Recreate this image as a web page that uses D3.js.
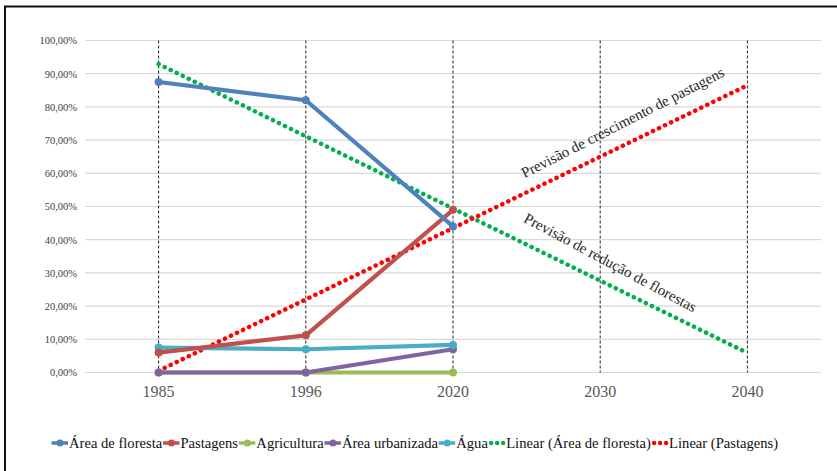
<!DOCTYPE html>
<html>
<head>
<meta charset="utf-8">
<script src="https://cdn.jsdelivr.net/npm/d3@7/dist/d3.min.js"></script>
<style>
  html, body { margin: 0; padding: 0; background: #fff; }
  svg { display: block; }
</style>
</head>
<body>
<svg id="chart" width="837" height="471"></svg>
<script>
// Land-use shares (%) per year, with linear projections to 2040
const years = ["1985", "1996", "2020", "2030", "2040"];
const observedYears = ["1985", "1996", "2020"];
const yTicks = [0, 10, 20, 30, 40, 50, 60, 70, 80, 90, 100];

const floresta = [87.5, 82, 44];
const pastagens = [6, 11.2, 49];
const agricultura = [0, 0, 0];
const urbanizada = [0, 0, 7];
const agua = [7.5, 7, 8.3];

// Trend line end values at 1985 and 2040
const trendYears = ["1985", "2040"];
const trendFloresta = [92.9, 5.9];
const trendPastagens = [0.5, 86.5];

const series = [
  { name: "Área de floresta", color: "#4F81BD", values: floresta },
  { name: "Pastagens", color: "#C0504D", values: pastagens },
  { name: "Agricultura", color: "#9BBB59", values: agricultura },
  { name: "Área urbanizada", color: "#8064A2", values: urbanizada },
  { name: "Água", color: "#4BACC6", values: agua }
];
const trends = [
  { name: "Linear (Área de floresta)", color: "#00B050", values: trendFloresta },
  { name: "Linear (Pastagens)", color: "#FF0000", values: trendPastagens }
];

const svg = d3.select("#chart");
const SERIF = "'Liberation Serif'";

// Frame
svg.append("line").attr("x1", 5).attr("x2", 5).attr("y1", 6).attr("y2", 471)
  .attr("stroke", "#111").attr("stroke-width", 2);
svg.append("line").attr("x1", 4).attr("x2", 837).attr("y1", 6.5).attr("y2", 6.5)
  .attr("stroke", "#111").attr("stroke-width", 2);

const plotLeft = 85, plotRight = 821, plotTop = 40.5, plotBottom = 372.5;

const x = d3.scaleBand().domain(years).range([plotLeft, plotRight]);
const cx = d => x(d) + x.bandwidth() / 2;
const y = d3.scaleLinear().domain([0, 100]).range([plotBottom, plotTop]);

// Horizontal gridlines
svg.append("g").selectAll("line").data(yTicks).join("line")
  .attr("x1", plotLeft).attr("x2", plotRight)
  .attr("y1", d => y(d)).attr("y2", d => y(d))
  .attr("stroke", "#D9D9D9").attr("stroke-width", 1.2);

// Y axis labels
const yAxis = d3.axisLeft(y).tickValues(yTicks).tickSize(0).tickPadding(0)
  .tickFormat(d => d3.format(".2f")(d).replace(".", ",") + "%");
const gy = svg.append("g").attr("transform", `translate(${plotLeft - 8},0)`).call(yAxis);
gy.select(".domain").remove();
gy.selectAll("text").style("font-family", SERIF).style("font-size", "10.5px")
  .attr("fill", "#404040");

// Dashed vertical lines at each year
svg.append("g").selectAll("line").data(years).join("line")
  .attr("x1", d => cx(d)).attr("x2", d => cx(d))
  .attr("y1", plotTop).attr("y2", plotBottom)
  .attr("stroke", "#222").attr("stroke-width", 1)
  .attr("stroke-dasharray", "3,2");

// X axis labels
const xAxis = d3.axisBottom(x).tickSize(0).tickPadding(0);
const gx = svg.append("g").attr("transform", `translate(0,${plotBottom + 13})`).call(xAxis);
gx.select(".domain").remove();
gx.selectAll("text").style("font-family", SERIF).style("font-size", "16px")
  .attr("fill", "#595959");

const line = d3.line().x(d => cx(d.year)).y(d => y(d.value));

// Trend lines (dotted)
trends.forEach(t => {
  const pts = trendYears.map((yr, i) => ({ year: yr, value: t.values[i] }));
  svg.append("path").datum(pts).attr("d", line)
    .attr("fill", "none").attr("stroke", t.color).attr("stroke-width", 4.5)
    .attr("stroke-linecap", "round").attr("stroke-dasharray", "0.1,6.6");
});

// Data series, drawn back to front
const order = [2, 3, 4, 1, 0];
order.forEach(i => {
  const s = series[i];
  const pts = observedYears.map((yr, j) => ({ year: yr, value: s.values[j] }));
  const g = svg.append("g");
  g.append("path").datum(pts).attr("d", line)
    .attr("fill", "none").attr("stroke", s.color).attr("stroke-width", 4.2)
    .attr("stroke-linejoin", "round");
  g.selectAll("circle").data(pts).join("circle")
    .attr("cx", d => cx(d.year)).attr("cy", d => y(d.value)).attr("r", 4)
    .attr("fill", s.color);
});

// Trend annotations
const angG = Math.atan2(y(trendPastagens[1]) - y(trendPastagens[0]), cx("2040") - cx("1985")) * 180 / Math.PI;
const angF = Math.atan2(y(trendFloresta[1]) - y(trendFloresta[0]), cx("2040") - cx("1985")) * 180 / Math.PI;
svg.append("text").attr("transform", `translate(625,127) rotate(${angG - 1.2})`)
  .attr("text-anchor", "middle").style("font-family", SERIF).style("font-size", "15px")
  .attr("fill", "#262626").text("Previsão de crescimento de pastagens");
svg.append("text").attr("transform", `translate(608,267) rotate(${angF + 2})`)
  .attr("text-anchor", "middle").style("font-family", SERIF).style("font-size", "15px")
  .attr("fill", "#262626").text("Previsão de redução de florestas");

// Legend
const legendItems = series.map(s => ({ ...s, dotted: false }))
  .concat(trends.map(t => ({ ...t, dotted: true })));
const legend = svg.append("g").attr("transform", "translate(51,443)");
let lx = 0;
legendItems.forEach(it => {
  const g = legend.append("g").attr("transform", `translate(${lx},0)`);
  if (it.dotted) {
    [3, 9, 15].forEach(px => g.append("circle").attr("cx", px).attr("cy", 0)
      .attr("r", 2.2).attr("fill", it.color));
  } else {
    g.append("line").attr("x1", 0.5).attr("x2", 17).attr("y1", 0).attr("y2", 0)
      .attr("stroke", it.color).attr("stroke-width", 3.5);
    g.append("circle").attr("cx", 9).attr("cy", 0).attr("r", 3.5).attr("fill", it.color);
  }
  const txt = g.append("text").attr("x", 18).attr("y", 5)
    .style("font-family", SERIF).style("font-size", "14.6px").attr("fill", "#111")
    .text(it.name);
  lx += 18 + txt.node().getComputedTextLength() + 0.3;
});
</script>
</body>
</html>
